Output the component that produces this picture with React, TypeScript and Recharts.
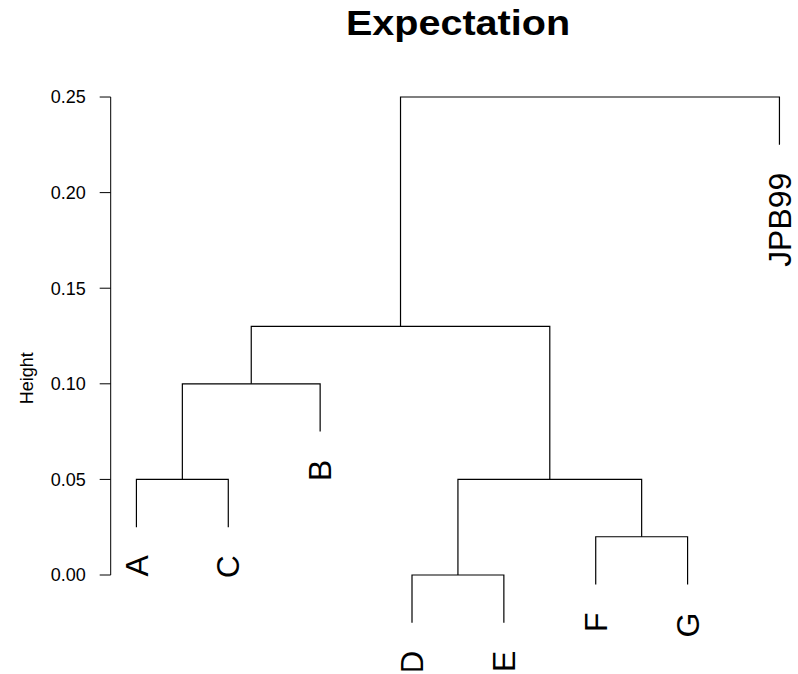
import { ComposedChart, Line, Scatter, XAxis, YAxis, ReferenceLine } from "recharts";

// leaf labels in dendrogram order
const labels = ["A", "C", "B", "D", "E", "F", "G", "JPB99"];
// hclust-style merge table: negative = leaf (1-based), positive = earlier merge
const mergeLeft = [-1, 1, -4, -6, 3, 2, 6];
const mergeRight = [-2, -3, -5, -7, 4, 5, -8];
const mergeHeight = [0.05, 0.1, 0.0, 0.02, 0.05, 0.13, 0.25];
const yTicks = [0, 0.05, 0.1, 0.15, 0.2, 0.25];
const hang = 0.025;

const W = 798;
const H = 674;
const FONT = "'Liberation Sans', Arial, sans-serif";
const xDomain: [number, number] = [0.72, 8.202];
const yDomain: [number, number] = [-0.05, 0.26];

const nodeX: number[] = [];
const childX = (c: number) => (c < 0 ? -c : nodeX[c - 1]);
mergeLeft.forEach((l, i) => {
  nodeX[i] = (childX(l) + childX(mergeRight[i])) / 2;
});

const childY = (c: number, parentH: number) =>
  c < 0 ? parentH - hang : mergeHeight[c - 1];

const branches = mergeLeft.map((l, i) => {
  const r = mergeRight[i];
  const h = mergeHeight[i];
  return [
    { x: childX(l), y: childY(l, h) },
    { x: childX(l), y: h },
    { x: childX(r), y: h },
    { x: childX(r), y: childY(r, h) },
  ];
});

const leaves = labels.map((label, i) => {
  const idx = -(i + 1);
  let k = mergeLeft.indexOf(idx);
  if (k < 0) k = mergeRight.indexOf(idx);
  return { x: i + 1, y: mergeHeight[k] - hang, label };
});

const LeafLabel = (props: any) => {
  const { cx, cy, payload } = props;
  return (
    <text
      transform={`translate(${cx},${cy + 28}) rotate(-90) scale(1.03,1)`}
      textAnchor="end"
      dy="0.36em"
      fontSize={31}
      fill="#000"
      fontFamily={FONT}
    >
      {payload.label}
    </text>
  );
};

const HeightLabel = (props: any) => {
  const { viewBox } = props;
  const cx = viewBox.x + 27;
  const cy = viewBox.y + viewBox.height / 2 + 4;
  return (
    <text
      transform={`translate(${cx},${cy}) rotate(-90)`}
      textAnchor="middle"
      dy="0.36em"
      fontSize={18}
      fill="#000"
      fontFamily={FONT}
    >
      Height
    </text>
  );
};

export default function App() {
  return (
    <div style={{ position: "absolute", left: 0, top: 0, width: W, height: H, background: "#fff" }}>
      <div
        style={{
          position: "absolute",
          left: 0,
          top: 5,
          width: 916,
          textAlign: "center",
          fontFamily: FONT,
          fontWeight: "bold",
          fontSize: 35,
          lineHeight: "36px",
          transform: "scaleX(1.13)",
          transformOrigin: "458px 0",
        }}
      >
        Expectation
      </div>
      <ComposedChart
        width={W}
        height={H}
        margin={{ top: 77.9, right: 0, bottom: 3.4, left: 0 }}
        style={{ fontFamily: FONT }}
      >
        <XAxis type="number" dataKey="x" domain={xDomain} allowDataOverflow hide />
        <YAxis
          type="number"
          domain={yDomain}
          ticks={yTicks}
          allowDataOverflow
          width={110.7}
          axisLine={false}
          tickSize={11}
          tickMargin={14}
          tickLine={{ stroke: "#000" }}
          tick={{ fill: "#000", fontSize: 18, fontFamily: FONT }}
          tickFormatter={(v: number) => v.toFixed(2)}
          label={<HeightLabel />}
        />
        <ReferenceLine
          segment={[
            { x: xDomain[0], y: yTicks[0] },
            { x: xDomain[0], y: yTicks[yTicks.length - 1] },
          ]}
          stroke="#000"
          ifOverflow="visible"
        />
        {branches.map((pts, i) => (
          <Line
            key={`b-${i}`}
            data={pts}
            dataKey="y"
            type="linear"
            stroke="#000"
            strokeWidth={1.2}
            dot={false}
            activeDot={false}
            isAnimationActive={false}
          />
        ))}
        <Scatter data={leaves} dataKey="y" shape={<LeafLabel />} isAnimationActive={false} />
      </ComposedChart>
    </div>
  );
}
